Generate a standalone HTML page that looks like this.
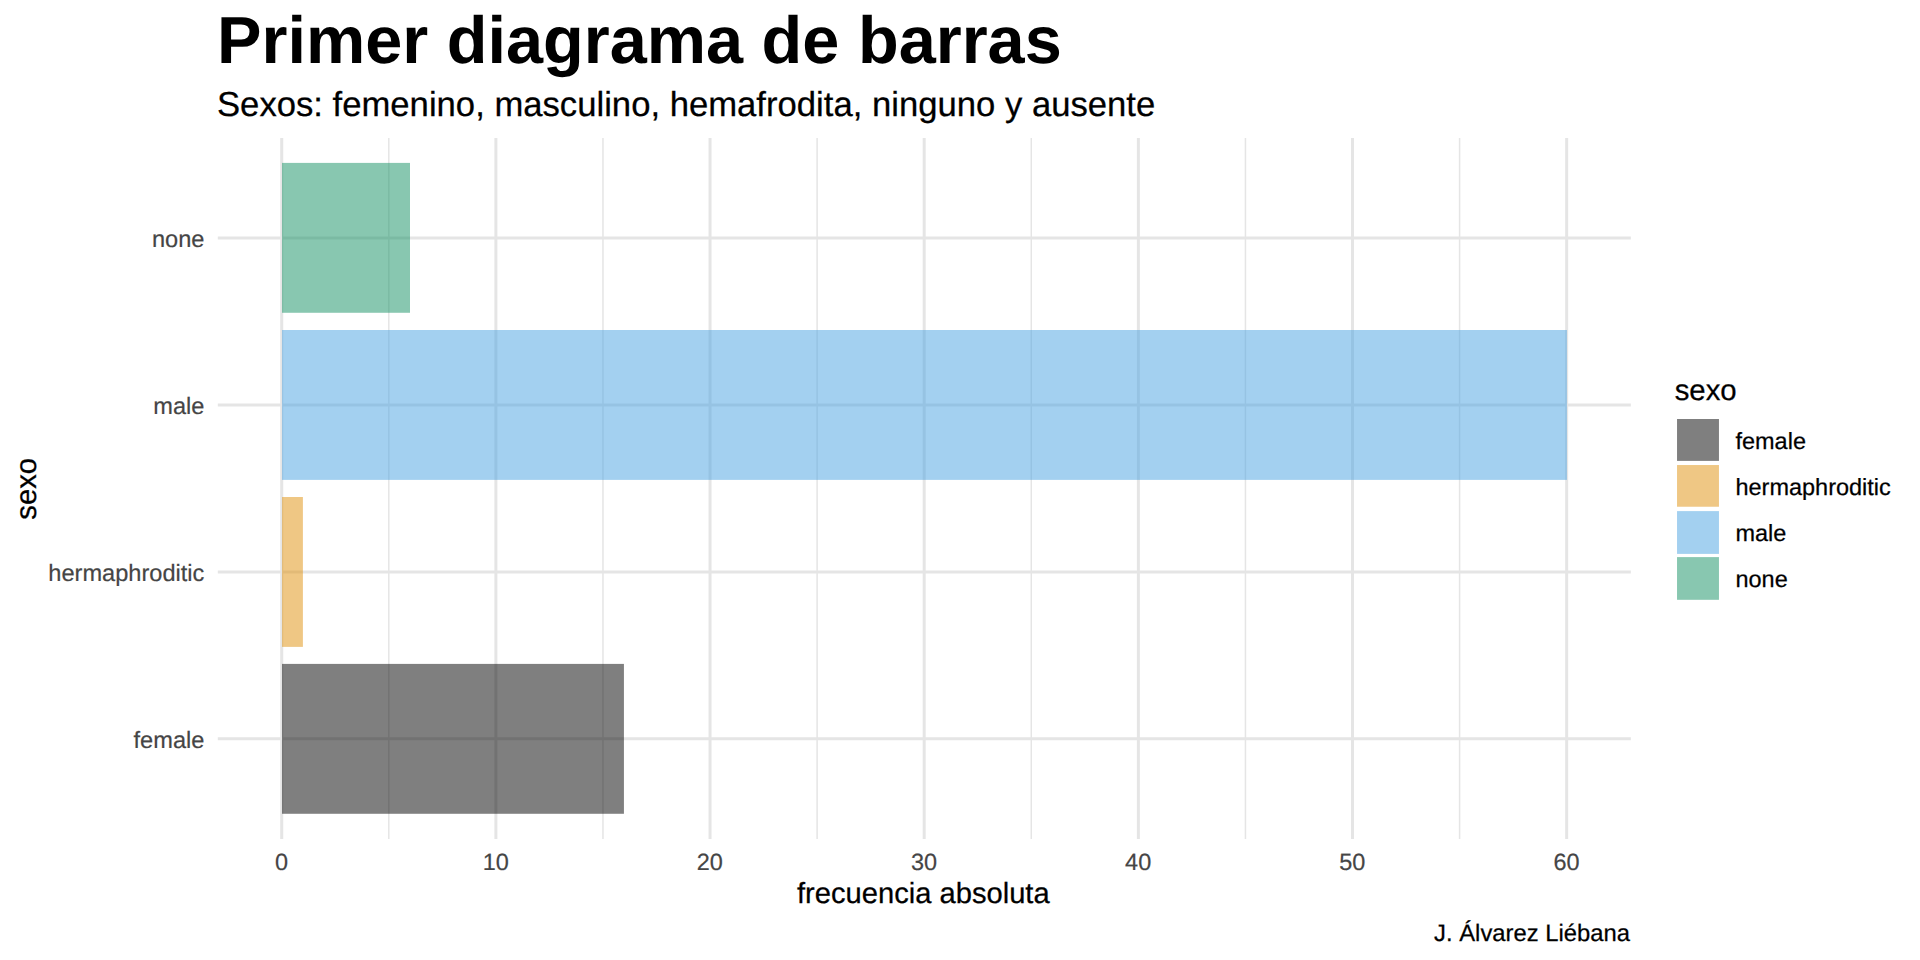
<!DOCTYPE html>
<html lang="es"><head><meta charset="utf-8"><title>Primer diagrama de barras</title>
<style>
html,body{margin:0;padding:0;background:#fff;}
body{width:1920px;height:960px;overflow:hidden;}
svg{display:block;font-family:"Liberation Sans",sans-serif;}
text{text-rendering:geometricPrecision;}
</style></head><body>
<svg width="1920" height="960" viewBox="0 0 1920 960">
<rect width="1920" height="960" fill="#ffffff"/>

<g stroke="#E5E5E5" stroke-width="1.5" fill="none">
<line x1="388.80" x2="388.80" y1="137.90" y2="838.95"/>
<line x1="602.96" x2="602.96" y1="137.90" y2="838.95"/>
<line x1="817.12" x2="817.12" y1="137.90" y2="838.95"/>
<line x1="1031.28" x2="1031.28" y1="137.90" y2="838.95"/>
<line x1="1245.44" x2="1245.44" y1="137.90" y2="838.95"/>
<line x1="1459.60" x2="1459.60" y1="137.90" y2="838.95"/>
</g>
<g stroke="#E5E5E5" stroke-width="3.0" fill="none">
<line x1="281.72" x2="281.72" y1="137.90" y2="838.95"/>
<line x1="495.88" x2="495.88" y1="137.90" y2="838.95"/>
<line x1="710.04" x2="710.04" y1="137.90" y2="838.95"/>
<line x1="924.20" x2="924.20" y1="137.90" y2="838.95"/>
<line x1="1138.36" x2="1138.36" y1="137.90" y2="838.95"/>
<line x1="1352.52" x2="1352.52" y1="137.90" y2="838.95"/>
<line x1="1566.68" x2="1566.68" y1="137.90" y2="838.95"/>
<line x1="217.80" x2="1630.85" y1="738.80" y2="738.80"/>
<line x1="217.80" x2="1630.85" y1="571.88" y2="571.88"/>
<line x1="217.80" x2="1630.85" y1="404.97" y2="404.97"/>
<line x1="217.80" x2="1630.85" y1="238.05" y2="238.05"/>
</g>
<g fill-opacity="0.5">
<rect x="282.03" y="663.90" width="341.90" height="149.88" fill="#000000"/>
<rect x="282.03" y="497.00" width="20.87" height="149.88" fill="#DF8F09"/>
<rect x="282.03" y="330.00" width="1284.89" height="149.88" fill="#47A1E1"/>
<rect x="282.03" y="162.90" width="127.97" height="149.88" fill="#118F61"/>
</g>
<g font-size="23.6" fill="#454545" stroke="#454545" stroke-width="0.2" text-anchor="end">
<text x="204.4" y="747.70">female</text>
<text x="204.4" y="580.78">hermaphroditic</text>
<text x="204.4" y="413.87">male</text>
<text x="204.4" y="246.95">none</text>
</g>
<g font-size="23.47" fill="#454545" stroke="#454545" stroke-width="0.2" text-anchor="middle">
<text x="281.52" y="870">0</text>
<text x="495.68" y="870">10</text>
<text x="709.84" y="870">20</text>
<text x="924.00" y="870">30</text>
<text x="1138.16" y="870">40</text>
<text x="1352.32" y="870">50</text>
<text x="1566.48" y="870">60</text>
</g>
<text x="923.3" y="902.5" font-size="29.15" text-anchor="middle" fill="#000" stroke="#000" stroke-width="0.25">frecuencia absoluta</text>
<text transform="translate(36.2,488.82) rotate(-90)" font-size="29.33" text-anchor="middle" fill="#000" stroke="#000" stroke-width="0.25">sexo</text>
<text x="217" y="62.7" font-size="66.67" font-weight="bold" fill="#000">Primer diagrama de barras</text>
<text x="217" y="115.7" font-size="34.67" fill="#000" stroke="#000" stroke-width="0.25">Sexos: femenino, masculino, hemafrodita, ninguno y ausente</text>
<text x="1629.9" y="940.6" font-size="23.8" text-anchor="end" fill="#000" stroke="#000" stroke-width="0.25">J. Álvarez Liébana</text>
<text x="1674.7" y="399.9" font-size="29.33" fill="#000" stroke="#000" stroke-width="0.25">sexo</text>
<g fill-opacity="0.5">
<rect x="1677.03" y="419.00" width="41.93" height="41.90" fill="#000000"/>
<rect x="1677.03" y="465.03" width="41.93" height="41.70" fill="#DF8F09"/>
<rect x="1677.03" y="511.10" width="41.93" height="42.80" fill="#47A1E1"/>
<rect x="1677.03" y="557.10" width="41.93" height="42.70" fill="#118F61"/>
</g>
<g font-size="23.47" fill="#000" stroke="#000" stroke-width="0.25">
<text x="1735.5" y="448.54">female</text>
<text x="1735.5" y="494.62">hermaphroditic</text>
<text x="1735.5" y="540.70">male</text>
<text x="1735.5" y="586.78">none</text>
</g>
</svg></body></html>
